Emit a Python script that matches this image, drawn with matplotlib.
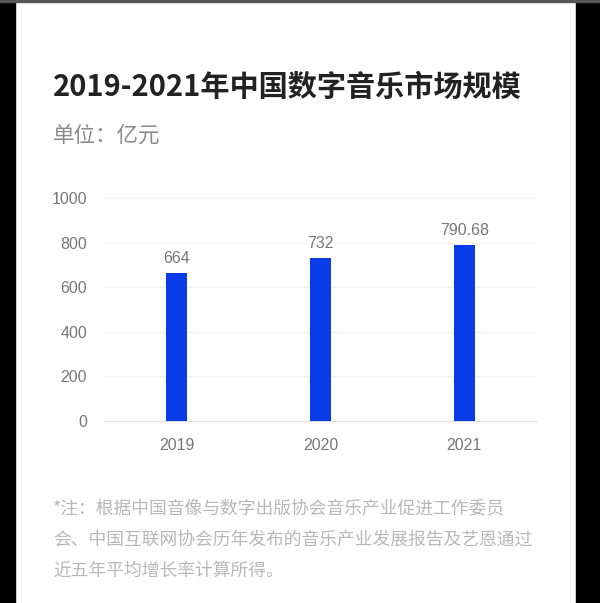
import matplotlib
matplotlib.use("Agg")
import matplotlib.pyplot as plt
from matplotlib.patches import Rectangle

plt.rcParams['font.family'] = ['Noto Sans CJK SC', 'DejaVu Sans']

years = ["2019", "2020", "2021"]
values = [664, 732, 790.68]
value_labels = ["664", "732", "790.68"]
yticks = [0, 200, 400, 600, 800, 1000]

title = "2019-2021年中国数字音乐市场规模"
subtitle = "单位：亿元"
note_lines = ["*注：根据中国音像与数字出版协会音乐产业促进工作委员",
              "会、中国互联网协会历年发布的音乐产业发展报告及艺恩通过",
              "近五年平均增长率计算所得。"]

W, H = 600, 603
fig = plt.figure(figsize=(W / 100, H / 100), dpi=100)
fig.patch.set_facecolor("white")

# black side borders of the screenshot
fig.patches.append(Rectangle((0, 0), 15 / W, 1, transform=fig.transFigure, color="black", zorder=10))
fig.patches.append(Rectangle((576 / W, 0), 24 / W, 1, transform=fig.transFigure, color="black", zorder=10))
fig.patches.append(Rectangle((0, 1 - 2 / H), 1, 2 / H, transform=fig.transFigure, color="#555555", zorder=10))

num_font = "Liberation Sans"

ax = fig.add_axes([105 / W, 1 - 421 / H, (536 - 105) / W, (421 - 198) / H])
x = list(range(len(years)))
ax.bar(x, values, width=0.146, color="#0b3be8", zorder=3)
for xi, v, lab in zip(x, values, value_labels):
    ax.text(xi, v + 30, lab, ha="center", va="bottom", fontsize=11.5, color="#777777",
            family=num_font)

ax.set_xlim(-0.5, 2.5)
ax.set_ylim(0, 1000)
ax.set_yticks(yticks)
ax.set_xticks(x)
ax.tick_params(axis="both", length=0, labelsize=11.5, labelcolor="#777777")
ax.set_yticklabels([str(t) for t in yticks], family=num_font)
ax.set_xticklabels(years, family=num_font)
ax.tick_params(axis="y", pad=13)
ax.tick_params(axis="x", pad=12)
ax.grid(axis="y", color="#f0f0f0", linewidth=0.8, zorder=0)
for s in ["top", "right", "left"]:
    ax.spines[s].set_visible(False)
ax.spines["bottom"].set_color("#dddddd")
ax.set_facecolor("white")

fig.text(53 / W, 1 - 87 / H, title, fontsize=21, fontweight="bold", color="#222222",
         va="center", ha="left")
fig.text(53 / W, 1 - 136 / H, subtitle, fontsize=15.5, color="#8a8a8a", va="center", ha="left")
for i, line in enumerate(note_lines):
    fig.text(53 / W, 1 - (508 + 31.5 * i) / H, line, fontsize=12.8, color="#b8b8b8",
             va="center", ha="left")

fig.savefig("out.png", dpi=100, facecolor="white")
